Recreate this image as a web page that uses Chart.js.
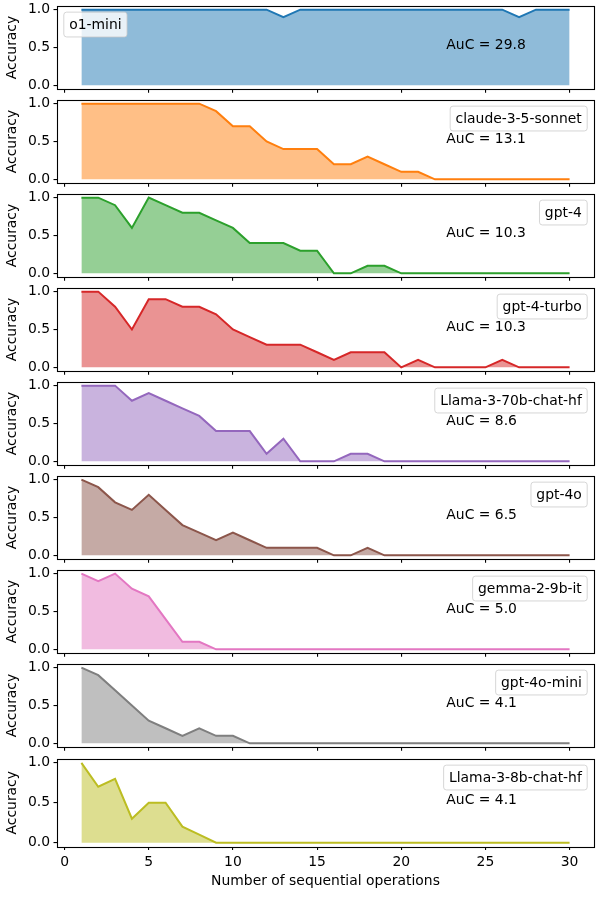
<!DOCTYPE html>
<html>
<head>
<meta charset="utf-8">
<script src="https://cdn.jsdelivr.net/npm/chart.js@4.4.1/dist/chart.umd.min.js"></script>
<style>
    html, body { margin: 0; padding: 0; background: #fff; }
    #fig { position: relative; width: 600px; height: 897px; overflow: hidden; }
    .panel { position: absolute; left: 0; width: 600px; }
</style>
</head>
<body>
<div id="fig"></div>
<script>
// x values: number of sequential operations
const steps = [1, 2, 3, 4, 5, 6, 7, 8, 9, 10, 11, 12, 13, 14, 15, 16, 17, 18, 19, 20, 21, 22, 23, 24, 25, 26, 27, 28, 29, 30];

const modelNames = ['o1-mini', 'claude-3-5-sonnet', 'gpt-4', 'gpt-4-turbo', 'Llama-3-70b-chat-hf', 'gpt-4o', 'gemma-2-9b-it', 'gpt-4o-mini', 'Llama-3-8b-chat-hf'];

// accuracy per step, one array per model
const o1Mini    = [1, 1, 1, 1, 1, 1, 1, 1, 1, 1, 1, 1, 0.9, 1, 1, 1, 1, 1, 1, 1, 1, 1, 1, 1, 1, 1, 0.9, 1, 1, 1];
const claude35  = [1, 1, 1, 1, 1, 1, 1, 1, 0.9, 0.7, 0.7, 0.5, 0.4, 0.4, 0.4, 0.2, 0.2, 0.3, 0.2, 0.1, 0.1, 0, 0, 0, 0, 0, 0, 0, 0, 0];
const gpt4      = [1, 1, 0.9, 0.6, 1, 0.9, 0.8, 0.8, 0.7, 0.6, 0.4, 0.4, 0.4, 0.3, 0.3, 0, 0, 0.1, 0.1, 0, 0, 0, 0, 0, 0, 0, 0, 0, 0, 0];
const gpt4Turbo = [1, 1, 0.8, 0.5, 0.9, 0.9, 0.8, 0.8, 0.7, 0.5, 0.4, 0.3, 0.3, 0.3, 0.2, 0.1, 0.2, 0.2, 0.2, 0, 0.1, 0, 0, 0, 0, 0.1, 0, 0, 0, 0];
const llama70b  = [1, 1, 1, 0.8, 0.9, 0.8, 0.7, 0.6, 0.4, 0.4, 0.4, 0.1, 0.3, 0, 0, 0, 0.1, 0.1, 0, 0, 0, 0, 0, 0, 0, 0, 0, 0, 0, 0];
const gpt4o     = [1, 0.9, 0.7, 0.6, 0.8, 0.6, 0.4, 0.3, 0.2, 0.3, 0.2, 0.1, 0.1, 0.1, 0.1, 0, 0, 0.1, 0, 0, 0, 0, 0, 0, 0, 0, 0, 0, 0, 0];
const gemma9b   = [1, 0.9, 1, 0.8, 0.7, 0.4, 0.1, 0.1, 0, 0, 0, 0, 0, 0, 0, 0, 0, 0, 0, 0, 0, 0, 0, 0, 0, 0, 0, 0, 0, 0];
const gpt4oMini = [1, 0.9, 0.7, 0.5, 0.3, 0.2, 0.1, 0.2, 0.1, 0.1, 0, 0, 0, 0, 0, 0, 0, 0, 0, 0, 0, 0, 0, 0, 0, 0, 0, 0, 0, 0];
const llama8b   = [1, 0.7, 0.8, 0.3, 0.5, 0.5, 0.2, 0.1, 0, 0, 0, 0, 0, 0, 0, 0, 0, 0, 0, 0, 0, 0, 0, 0, 0, 0, 0, 0, 0, 0];

const allSeries = [o1Mini, claude35, gpt4, gpt4Turbo, llama70b, gpt4o, gemma9b, gpt4oMini, llama8b];
const legendCorner = ['left', 'right', 'right', 'right', 'right', 'right', 'right', 'right', 'right'];

const xTicks = [0, 5, 10, 15, 20, 25, 30];
const yTicks = [0, 0.5, 1];

const colors = ['#1f77b4', '#ff7f0e', '#2ca02c', '#d62728', '#9467bd', '#8c564b', '#e377c2', '#7f7f7f', '#bcbd22'];

const FONT = 'DejaVu Sans';
const FS = 13.9;

Chart.defaults.font.family = FONT;
Chart.defaults.font.size = FS;
Chart.defaults.color = '#000';

function withAlpha(hex, a) {
    const n = parseInt(hex.slice(1), 16);
    return `rgba(${(n >> 16) & 255}, ${(n >> 8) & 255}, ${n & 255}, ${a})`;
}

// frame, AuC text and the small legend box inside each panel
const panelDecor = {
    id: 'panelDecor',
    afterDraw(chart) {
        const opts = chart.options.plugins.panelDecor;
        const { ctx, chartArea: a } = chart;
        const w = a.right - a.left, h = a.bottom - a.top;
        ctx.save();

        ctx.strokeStyle = '#000';
        ctx.lineWidth = 1.1;
        ctx.strokeRect(Math.round(a.left) + 0.5, Math.round(a.top) + 0.5,
            Math.round(a.right) - Math.round(a.left), Math.round(a.bottom) - Math.round(a.top));

        ctx.font = `${FS}px "${FONT}"`;
        ctx.fillStyle = '#000';
        ctx.textAlign = 'left';
        ctx.textBaseline = 'middle';
        ctx.fillText(opts.auc, a.left + 0.725 * w, a.top + 0.472 * h);

        // legend box
        const pad = 5.4, boxH = 24.8;
        const tw = ctx.measureText(opts.label).width;
        const boxW = tw + 2 * pad;
        const bx = opts.corner === 'left' ? a.left + 6.8 : a.right - 6.8 - boxW;
        const by = a.top + 6.3;
        ctx.beginPath();
        ctx.roundRect(bx, by, boxW, boxH, 2.8);
        ctx.fillStyle = 'rgba(255, 255, 255, 0.8)';
        ctx.fill();
        ctx.strokeStyle = 'rgba(204, 204, 204, 0.8)';
        ctx.lineWidth = 1;
        ctx.stroke();
        ctx.fillStyle = '#000';
        ctx.fillText(opts.label, bx + pad, by + boxH / 2 + 0.5);

        ctx.restore();
    }
};

const fig = document.getElementById('fig');
const figTop = 4.7, pitch = 94.04, axH = 89.6;

allSeries.forEach((vals, i) => {
    const top = figTop + i * pitch;
    const last = i === allSeries.length - 1;
    const cTop = Math.floor(top) - 10;
    const padTop = top - cTop;
    const xH = last ? 897 - (top + axH) : 6;
    const cH = last ? 897 - cTop : Math.ceil(padTop + axH + xH);
    const padBottom = cH - padTop - axH - xH;

    const wrap = document.createElement('div');
    wrap.className = 'panel';
    wrap.style.top = cTop + 'px';
    wrap.style.height = cH + 'px';
    const canvas = document.createElement('canvas');
    wrap.appendChild(canvas);
    fig.appendChild(wrap);

    const auc = vals.reduce((s, v) => s + v, 0);

    new Chart(canvas, {
        type: 'line',
        data: {
            labels: steps,
            datasets: [{
                label: modelNames[i],
                data: steps.map((x, k) => ({ x: x, y: vals[k] })),
                borderColor: colors[i],
                backgroundColor: withAlpha(colors[i], 0.5),
                borderWidth: 2,
                fill: 'origin',
                tension: 0,
                pointRadius: 0
            }]
        },
        options: {
            responsive: true,
            maintainAspectRatio: false,
            animation: false,
            layout: { padding: { left: 0, right: 6, top: padTop, bottom: padBottom } },
            plugins: {
                legend: { display: false },
                tooltip: { enabled: false },
                panelDecor: { label: modelNames[i], auc: 'AuC = ' + auc.toFixed(1), corner: legendCorner[i] }
            },
            scales: {
                x: {
                    type: 'linear',
                    min: -0.45,
                    max: 31.45,
                    afterBuildTicks: s => { s.ticks = xTicks.map(v => ({ value: v })); },
                    afterFit: s => { s.height = xH; },
                    border: { display: false },
                    grid: { drawOnChartArea: false, drawTicks: true, tickLength: 3.5, color: '#000', lineWidth: 1.1 },
                    ticks: {
                        padding: 3.5,
                        maxRotation: 0,
                        autoSkip: false,
                        callback: v => last ? String(v) : ''
                    },
                    title: {
                        display: last,
                        text: 'Number of sequential operations',
                        padding: { top: 0, bottom: 7.2 }
                    }
                },
                y: {
                    min: -0.05,
                    max: 1.05,
                    afterBuildTicks: s => { s.ticks = yTicks.map(v => ({ value: v })); },
                    afterFit: s => { s.width = 57; },
                    border: { display: false },
                    grid: { drawOnChartArea: false, drawTicks: true, tickLength: 3.5, color: '#000', lineWidth: 1.1 },
                    ticks: {
                        padding: 3.5,
                        autoSkip: false,
                        callback: v => v.toFixed(1)
                    },
                    title: {
                        display: true,
                        text: 'Accuracy',
                        padding: { top: 4, bottom: 0 }
                    }
                }
            }
        },
        plugins: [panelDecor]
    });
});
</script>
</body>
</html>
